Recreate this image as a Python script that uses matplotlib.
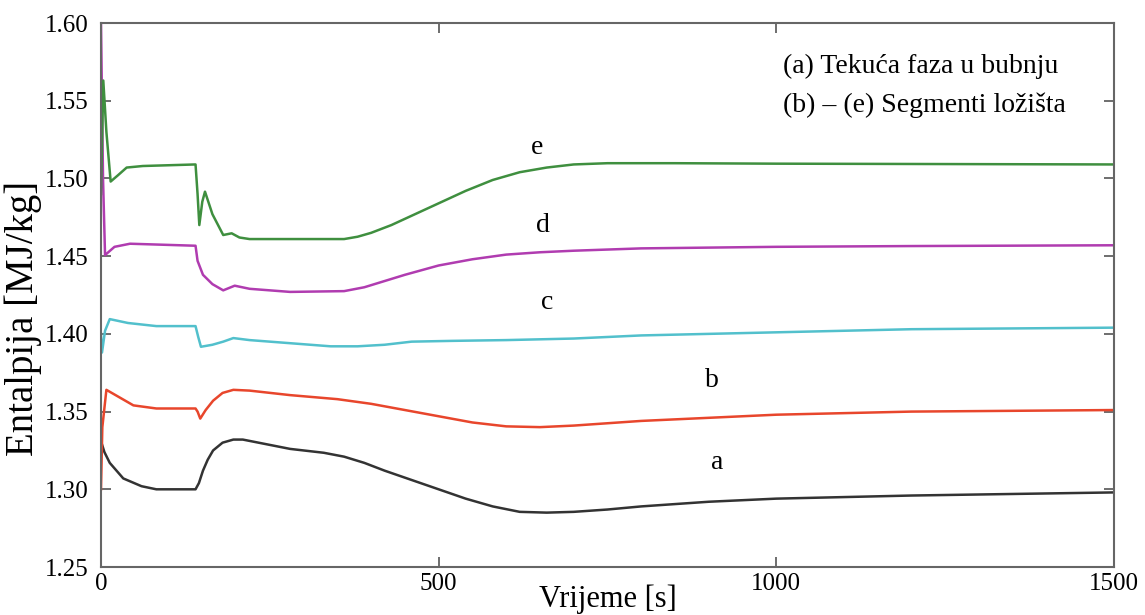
import matplotlib.pyplot as plt

plt.rcParams['font.family'] = ['Liberation Serif', 'DejaVu Serif']

# a - tekuca faza u bubnju
a_t = [0, 5, 13, 33, 60, 82, 140, 145, 151, 158, 166, 180, 196, 210, 280, 330,
       360, 390, 420, 460, 500, 540, 580, 620, 660, 700, 750, 800, 900, 1000,
       1200, 1500]
a_y = [1.331, 1.324, 1.317, 1.307, 1.302, 1.300, 1.300, 1.304, 1.312, 1.319,
       1.325, 1.330, 1.332, 1.332, 1.326, 1.3235, 1.321, 1.317, 1.312, 1.306,
       1.300, 1.294, 1.289, 1.2855, 1.285, 1.2855, 1.287, 1.289, 1.292, 1.294,
       1.296, 1.298]

# b - e segmenti lozista
b_t = [0, 2, 8, 20, 48, 82, 140, 143, 147, 155, 166, 180, 196, 220, 280, 350,
       400, 450, 500, 550, 600, 650, 700, 800, 900, 1000, 1200, 1500]
b_y = [1.300, 1.340, 1.364, 1.361, 1.354, 1.352, 1.352, 1.350, 1.3455, 1.351,
       1.357, 1.362, 1.364, 1.3635, 1.3606, 1.358, 1.355, 1.351, 1.347, 1.343,
       1.3405, 1.340, 1.341, 1.344, 1.346, 1.348, 1.350, 1.351]

c_t = [0, 1.5, 6, 13, 40, 82, 140, 144, 148, 165, 181, 196, 220, 280, 340, 380,
       420, 460, 520, 600, 700, 800, 900, 1000, 1200, 1500]
c_y = [1.400, 1.388, 1.402, 1.4095, 1.407, 1.405, 1.405, 1.398, 1.3917, 1.393,
       1.395, 1.3973, 1.396, 1.394, 1.392, 1.392, 1.393, 1.395, 1.3955, 1.396,
       1.397, 1.399, 1.400, 1.401, 1.403, 1.404]

d_t = [0, 3, 6, 20, 43, 140, 143, 151, 165, 181, 198, 220, 280, 360, 390, 420,
       450, 500, 550, 600, 650, 700, 800, 1000, 1200, 1500]
d_y = [1.60, 1.50, 1.4507, 1.456, 1.458, 1.4567, 1.447, 1.438, 1.432, 1.428,
       1.431, 1.429, 1.427, 1.4275, 1.430, 1.434, 1.438, 1.444, 1.448, 1.451,
       1.4525, 1.4535, 1.455, 1.456, 1.4565, 1.457]

e_t = [0, 3.4, 8, 14.3, 25, 38, 62, 140, 143, 145.6, 150, 154, 165, 181, 193.5,
       205, 220, 360, 380, 400, 430, 460, 500, 540, 580, 620, 660, 700, 750,
       850, 1000, 1500]
e_y = [1.49, 1.563, 1.53, 1.498, 1.502, 1.507, 1.508, 1.509, 1.49, 1.470, 1.485,
       1.4915, 1.477, 1.4636, 1.4647, 1.462, 1.461, 1.461, 1.4625, 1.465, 1.470,
       1.476, 1.484, 1.492, 1.499, 1.504, 1.507, 1.509, 1.5098, 1.5098, 1.5095,
       1.509]

fig = plt.figure(figsize=(11.45, 6.15), dpi=100)
ax = fig.add_axes([0.0882, 0.078, 0.8847, 0.8846])

ax.plot(a_t, a_y, color='#333333', lw=1.8)
ax.plot(b_t, b_y, color='#e8462c', lw=1.8)
ax.plot(c_t, c_y, color='#52c0cc', lw=1.8)
ax.plot(d_t, d_y, color='#b03cb0', lw=1.8)
ax.plot(e_t, e_y, color='#3f8f3f', lw=1.8)

ax.text(645, 1.520, 'e', fontsize=20, ha='center', va='center')
ax.text(655, 1.470, 'd', fontsize=20, ha='center', va='center')
ax.text(660, 1.420, 'c', fontsize=20, ha='center', va='center')
ax.text(904, 1.370, 'b', fontsize=20, ha='center', va='center')
ax.text(912, 1.317, 'a', fontsize=20, ha='center', va='center')

ax.text(1010, 1.572, '(a) Tekuća faza u bubnju', fontsize=20, va='center')
ax.text(1010, 1.547, '(b) – (e) Segmenti ložišta', fontsize=20, va='center')

ax.set_xlim(0, 1500)
ax.set_ylim(1.25, 1.60)
ax.set_xticks([0, 500, 1000, 1500])
ax.set_yticks([1.25, 1.30, 1.35, 1.40, 1.45, 1.50, 1.55, 1.60])
ax.set_yticklabels(['1.25', '1.30', '1.35', '1.40', '1.45', '1.50', '1.55', '1.60'])
ax.tick_params(direction='in', top=True, right=True, length=7, width=1.2,
               color='#555555', labelsize=18)
ax.tick_params(axis='y', pad=9)
ax.tick_params(axis='x', pad=4)
for s in ax.spines.values():
    s.set_color('#666666')
    s.set_linewidth(1.5)

ax.set_xlabel('Vrijeme [s]', fontsize=22, labelpad=-7)
ax.set_ylabel('Entalpija [MJ/kg]', fontsize=28)
ax.yaxis.set_label_coords(-0.058, 0.457)

fig.savefig('out.png', dpi=100)
